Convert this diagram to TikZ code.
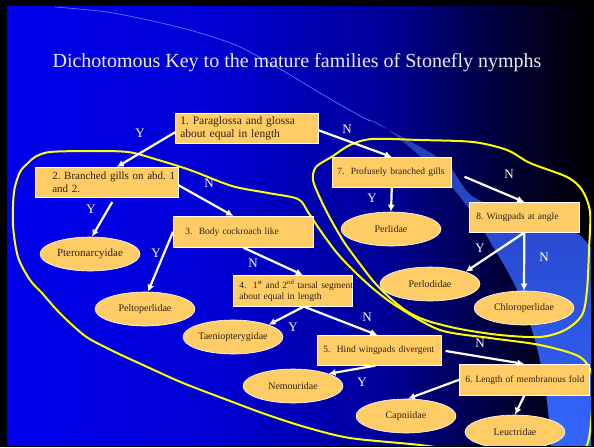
\documentclass[tikz,border=0pt]{standalone}
\usepackage{fontspec}
\setmainfont{Liberation Serif}
\usetikzlibrary{arrows.meta,shapes.geometric}
\frenchspacing

\definecolor{keyorange}{RGB}{255,204,102}
\definecolor{keyink}{RGB}{45,35,25}
\definecolor{bgA}{RGB}{0,0,238}
\definecolor{bgB}{RGB}{0,0,212}
\definecolor{bgC}{RGB}{0,0,150}
\definecolor{bgD}{RGB}{0,0,55}
\definecolor{swoosh}{RGB}{51,102,255}
\definecolor{swooshtop}{RGB}{35,60,180}
\definecolor{arcline}{RGB}{70,130,255}
\definecolor{lassoyellow}{RGB}{255,255,0}
\definecolor{titleink}{RGB}{235,235,245}
\pgfdeclarehorizontalshading{slideshade}{100bp}{color(0bp)=(bgA); color(25bp)=(bgA); color(42.5bp)=(bgB); color(57.5bp)=(bgC); color(67.5bp)=(bgD); color(75bp)=(black); color(100bp)=(black)}

\begin{document}
\begin{tikzpicture}[
	x=1pt, y=-1pt,
	>={Latex[length=7pt,width=7pt]},
	keybox/.style={draw=white, line width=.6pt, fill=keyorange, text=keyink, align=left, anchor=north west, inner xsep=0pt, inner ysep=0pt, font=\fontsize{9.5}{11}\selectfont},
	lead/.style={execute at begin node={\leftskip=#1\relax}},
	taxon/.style={ellipse, draw=white, line width=.6pt, fill=keyorange, text=keyink, minimum width=100pt, minimum height=34pt, inner sep=0pt, font=\fontsize{10}{12}\selectfont},
	yn/.style={text=white, inner sep=0pt, font=\fontsize{13}{13}\selectfont},
	link/.style={->, white, line width=2.2pt},
	lasso/.style={draw=lassoyellow, line width=2pt}
	]
	\useasboundingbox (0,0) rectangle (594,447);
	\fill[black] (0,0) rectangle (594,447);
	
	\begin{scope}
	\clip (7,6) rectangle (591,445);
	
	%--- slide background ---
	\shade[shading=slideshade] (7,6) rectangle (591,445);
	\shade[top color=swooshtop, bottom color=swoosh] plot[smooth] coordinates {(366,119) (380,124) (413,150) (450,185) (477,220) (492,245) (504,265) (518,292) (532,330) (542,370) (548,410) (551,447)} -- (594,447) -- (594,250) -- plot[smooth] coordinates {(579,234) (520,216) (472,196) (448,165) (410,141) (366,119)} -- cycle;
	\draw[arcline, line width=.7pt] plot[smooth] coordinates {(55,7) (107,12) (157,22) (200,33) (240,47) (287,73) (320,93) (353,112) (370,121)};
	
	%--- hand drawn groupings ---
	\draw[lasso] plot[smooth cycle, tension=.5] coordinates {(35,157) (50,152) (90,151) (128,152) (155,159) (190,170) (232,186) (268,193) (298,199) (308,212) (320,230) (337,253) (356,273) (376,291) (398,307) (440,330) (490,338) (540,345) (580,357) (593,378) (592,410) (586,447) (560,462) (470,452) (420,445) (350,438) (305,427) (265,414) (230,401) (183,383) (143,365) (115,352) (88,338) (70,323) (55,308) (42,293) (30,280) (18,257) (13,225) (14,192) (20,172) (28,163)};
	\draw[lasso] plot[smooth cycle, tension=.5] coordinates {(316,167) (333,156) (350,145) (372,139) (420,140) (473,142) (507,150) (530,163) (567,177) (582,190) (590,212) (589,250) (587,290) (582,315) (565,330) (540,337) (500,335) (460,329) (428,321) (408,312) (390,298) (374,282) (360,264) (344,242) (330,218) (320,198) (313,180)};
	
	%--- title ---
	\node[text=titleink, anchor=base, inner sep=0pt, font=\fontsize{20}{24}\selectfont] (title) at (297,67) {Dichotomous Key to the mature families of Stonefly nymphs};
	
	%--- couplets ---
	\node[keybox, lead=5pt, text width=143pt, minimum height=30pt, font=\fontsize{11.5}{13}\selectfont] (q1) at (175,113) {\mbox{1. Paraglossa and glossa}\\about equal in length};
	\node[keybox, lead=17pt, text width=143pt, minimum height=30pt, font=\fontsize{11}{12.5}\selectfont] (q2) at (35,167) {\mbox{2. Branched gills on abd. 1}\\and 2.};
	\node[keybox, lead=12pt, text width=140pt, minimum height=31pt] (q3) at (173,216) {\mbox{3.\ \ Body cockroach like}};
	\node[keybox, lead=6pt, text width=119pt, minimum height=31pt] (q4) at (233,275) {\mbox{4.\ \ 1\textsuperscript{st} and 2\textsuperscript{nd} tarsal segment}\\about equal in length};
	\node[keybox, lead=6pt, text width=124pt, minimum height=30pt] (q5) at (317,335) {\mbox{5.\ \ Hind wingpads divergent}};
	\node[keybox, lead=6pt, text width=130pt, minimum height=31pt] (q6) at (459,364) {\mbox{6. Length of membranous fold}};
	\node[keybox, lead=5pt, text width=119pt, minimum height=30pt] (q7) at (332,157) {\mbox{7.\ \ Profusely branched gills}};
	\node[keybox, lead=7pt, text width=110pt, minimum height=30pt] (q8) at (469,202) {\mbox{8. Wingpads at angle}};
	
	%--- families ---
	\node[taxon, font=\fontsize{11}{13}\selectfont] (ptero) at (90,254) {Pteronarcyidae};
	\node[taxon] (pelto) at (145,309) {Peltoperlidae};
	\node[taxon] (taenio) at (233,337) {Taeniopterygidae};
	\node[taxon] (nemou) at (293,386) {Nemouridae};
	\node[taxon] (capni) at (406,416) {Capniidae};
	\node[taxon] (leuct) at (515,432) {Leuctridae};
	\node[taxon] (perli) at (391,229) {Perlidae};
	\node[taxon] (perlo) at (430,284) {Perlodidae};
	\node[taxon] (chloro) at (524,308) {Chloroperlidae};
	
	%--- branches ---
	\draw[link] ([yshift=-4pt]q1.west) -- ([xshift=10pt]q2.north);
	\draw[link] ([yshift=-2pt]q1.east) -- (q7.north);
	\draw[link] ([yshift=-3pt]q2.east) -- ([xshift=-10pt]q3.north);
	\draw[link, shorten <=5pt] ([xshift=8pt]q2.south) -- ([xshift=2pt]ptero.north);
	\draw[link] (q3.west) -- ([xshift=3pt]pelto.north);
	\draw[link] (q3.south) -- ([xshift=10pt]q4.north);
	\draw[link] ([xshift=11pt]q4.south) -- (taenio.north east);
	\draw[link] ([xshift=11pt]q4.south) -- ([xshift=-2pt]q5.north);
	\draw[link] ([xshift=-4pt]q5.south) -- (nemou.north east);
	\draw[link, shorten <=4pt] (q5.east) -- (q6.north);
	\draw[link] (q6.west) -- ([xshift=2pt]capni.north);
	\draw[link] (q6.south) -- (leuct.north);
	\draw[link] (q7.south) -- (perli.north);
	\draw[link, shorten <=14pt] ([yshift=1pt]q7.east) -- (q8.north);
	\draw[link] (q8.south) -- (perlo.north east);
	\draw[link] (q8.south) -- (chloro.north);
	
	%--- answers ---
	\node[yn] (a1y) at (140,133) {Y};
	\node[yn] (a1n) at (347,129) {N};
	\node[yn] (a2y) at (91,209) {Y};
	\node[yn] (a2n) at (209,183) {N};
	\node[yn] (a3y) at (156,253) {Y};
	\node[yn] (a3n) at (253,263) {N};
	\node[yn] (a4y) at (293,327) {Y};
	\node[yn] (a4n) at (367,317) {N};
	\node[yn] (a5y) at (362,382) {Y};
	\node[yn] (a5n) at (480,343) {N};
	\node[yn] (a7y) at (372,198) {Y};
	\node[yn] (a7n) at (509,174) {N};
	\node[yn] (a8y) at (480,248) {Y};
	\node[yn] (a8n) at (544,257) {N};
	\end{scope}
	
\end{tikzpicture}
\end{document}
